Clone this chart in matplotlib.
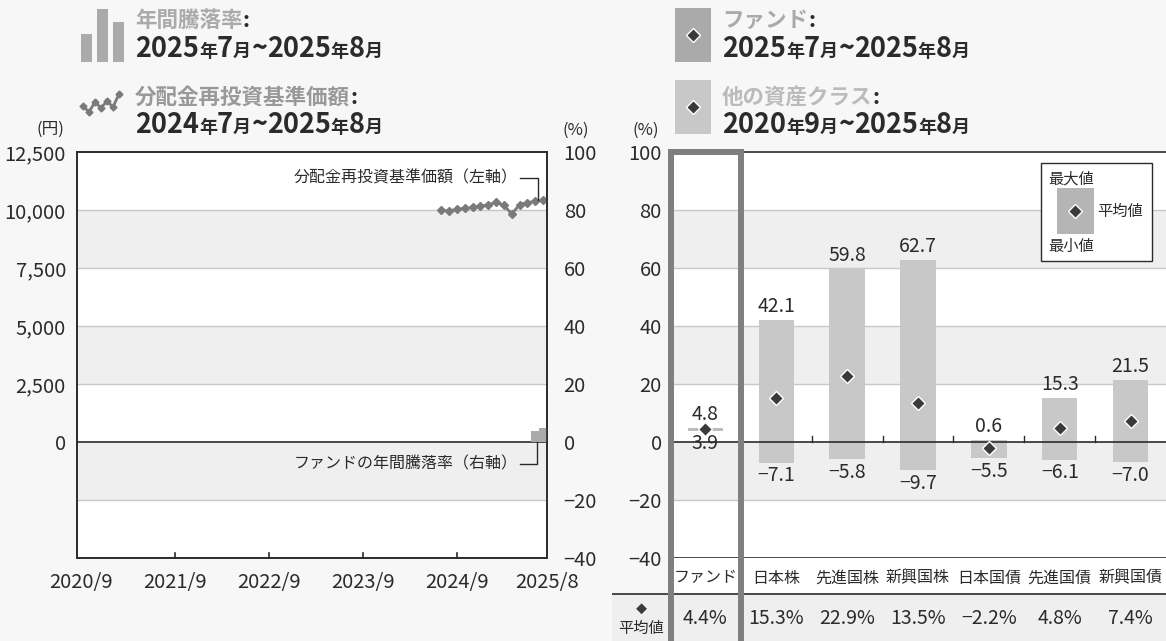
import matplotlib.pyplot as plt
from matplotlib.patches import Rectangle
from matplotlib.lines import Line2D

plt.rcParams['font.family'] = ['Noto Sans CJK JP', 'DejaVu Sans']

# ---- data: left chart (month index, 0 = 2020/9) ----
nav_months = list(range(46, 60))          # 2024/7 .. 2025/8
nav_values = [9990, 9960, 10030, 10070, 10110, 10160, 10220,
              10330, 10200, 9830, 10230, 10320, 10370, 10420]
ret_months = [58, 59]                     # 2025/7, 2025/8
ret_values = [3.9, 4.8]
x_tick_pos = [0, 12, 24, 36, 48, 59.5]
x_tick_labels = ['2020/9', '2021/9', '2022/9', '2023/9', '2024/9', '2025/8']
yen_ticks = [0, 2500, 5000, 7500, 10000, 12500]
pct_ticks = [-40, -20, 0, 20, 40, 60, 80, 100]

# ---- data: right chart ----
classes = ['ファンド', '日本株', '先進国株', '新興国株', '日本国債', '先進国債', '新興国債']
max_vals = [4.8, 42.1, 59.8, 62.7, 0.6, 15.3, 21.5]
min_vals = [3.9, -7.1, -5.8, -9.7, -5.5, -6.1, -7.0]
avg_vals = [4.4, 15.3, 22.9, 13.5, -2.2, 4.8, 7.4]

W, H = 1166, 641
BG = '#f7f7f7'
BAND = '#efefef'
GRID = '#c8c8c8'
DARK = '#2b2b2b'
FUND_C = '#aaaaaa'
OTHER_C = '#c8c8c8'
TICK_FS = 14.5


def fx(px):
    return px / W


def fy(py):
    return 1 - py / H


def mfmt(v, nd=1, suffix=''):
    s = f'{v:.{nd}f}'
    return s.replace('-', '\u2212') + suffix


fig = plt.figure(figsize=(W / 100, H / 100), dpi=100, facecolor=BG)
renderer = fig.canvas.get_renderer()


def seg_text(px, py, parts):
    # parts: (text, size, color) drawn one after another on a common baseline
    x = fx(px)
    for s, size, color in parts:
        t = fig.text(x, fy(py), s, fontsize=size, color=color,
                     fontweight='bold', va='baseline', ha='left')
        x += t.get_window_extent(renderer=renderer).width / W


def date_parts(y1, m1, y2, m2):
    big, small = 19.5, 13
    return [(y1, big, DARK), ('年', small, DARK), (m1, big, DARK), ('月', small, DARK),
            ('~', big, DARK), (y2, big, DARK), ('年', small, DARK), (m2, big, DARK),
            ('月', small, DARK)]


def band_grid(a, k=1.0):
    # bands / grid given in % ; k converts to the axis units
    for lo, hi in [(60, 80), (20, 40), (-20, 0)]:
        a.axhspan(lo * k, hi * k, color=BAND, zorder=0, lw=0)
    for v in [-20, 20, 40, 60, 80]:
        a.axhline(v * k, color=GRID, lw=1, zorder=0.5)
    a.axhline(0, color=DARK, lw=1.2, zorder=3)


# ================= left chart =================
ax = fig.add_axes([fx(77), fy(558), (547 - 77) / W, (558 - 152) / H])
ax.set_facecolor('white')
ax.set_xlim(-0.5, 59.5)
ax.set_ylim(-5000, 12500)
band_grid(ax, 125)
ax2 = ax.twinx()
ax2.set_ylim(-40, 100)

ax.plot(nav_months, nav_values, color='#7a7a7a', lw=2, marker='D', ms=4.5,
        zorder=4)
ax2.bar(ret_months, ret_values, width=1.0, color=FUND_C, zorder=2)

ax.set_yticks(yen_ticks, [f'{v:,}' for v in yen_ticks])
ax2.set_yticks(pct_ticks, [mfmt(v, 0) for v in pct_ticks])
ax.set_xticks(x_tick_pos, x_tick_labels)
ax.tick_params(axis='y', length=0, labelsize=TICK_FS, labelcolor=DARK, pad=8)
ax2.tick_params(axis='y', length=0, labelsize=TICK_FS, labelcolor=DARK, pad=12)
ax.tick_params(axis='x', length=0, labelsize=TICK_FS, labelcolor=DARK, pad=10)
# inward year ticks on the bottom spine
for m in x_tick_pos[1:-1]:
    ax.plot([m, m], [-5000, -4800], color=DARK, lw=1.2, zorder=6, clip_on=False)
for a in (ax, ax2):
    for sp in a.spines.values():
        sp.set_color(DARK)
        sp.set_linewidth(1.2)

# leader lines
ax.plot([56.0, 58.3, 58.3], [11380, 11380, nav_values[-2] + 80],
        color=DARK, lw=1, zorder=5)
ax.text(55.8, 11380, '分配金再投資基準価額（左軸）', ha='right', va='center',
        fontsize=11.5, color=DARK)
ax2.plot([56.0, 58.2, 58.2], [-7.6, -7.6, 0], color=DARK, lw=1, zorder=5)
ax2.text(55.8, -7.6, 'ファンドの年間騰落率（右軸）', ha='right', va='center',
         fontsize=11.5, color=DARK)

fig.text(fx(50), fy(129), '(円)', ha='center', va='center', fontsize=12, color=DARK)
fig.text(fx(576), fy(130), '(%)', ha='center', va='center', fontsize=12, color=DARK)

# ================= right chart =================
axr = fig.add_axes([fx(670), fy(558), (1166 - 670) / W, (558 - 152) / H])
axr.set_facecolor('white')
axr.set_xlim(-0.5, 6.5)
axr.set_ylim(-40, 100)
band_grid(axr)

xs = list(range(len(classes)))
heights = [mx - mn for mx, mn in zip(max_vals, min_vals)]
colors = [OTHER_C] * len(classes)
colors[0] = '#bdbdbd'
axr.bar(xs, heights, bottom=min_vals, width=0.5, color=colors, zorder=2)
axr.plot(xs, avg_vals, ls='none', marker='D', ms=7, color='#3a3a3a',
         mec='white', mew=1, zorder=5)
for x, mx, mn in zip(xs, max_vals, min_vals):
    axr.annotate(mfmt(mx), (x, mx), xytext=(0, 2), textcoords='offset points',
                 ha='center', va='bottom', fontsize=14, color=DARK, zorder=6)
    axr.annotate(mfmt(mn), (x, mn), xytext=(0, -2), textcoords='offset points',
                 ha='center', va='top', fontsize=14, color=DARK, zorder=6)
for b in [1.5, 2.5, 3.5, 4.5, 5.5]:
    axr.plot([b, b], [0, 2.2], color=DARK, lw=1, zorder=3)

axr.set_xticks([])
axr.set_yticks(pct_ticks, [mfmt(v, 0) for v in pct_ticks])
axr.tick_params(axis='y', length=0, labelsize=TICK_FS, labelcolor=DARK, pad=6)
axr.spines['right'].set_visible(False)
for sp in ['top', 'bottom', 'left']:
    axr.spines[sp].set_color(DARK)
    axr.spines[sp].set_linewidth(1.2)
fig.text(fx(646), fy(130), '(%)', ha='center', va='center', fontsize=12, color=DARK)


# mini legend inside right chart
def rax(px, py):
    return ((px - 670) / 496, (558 - py) / 406)


lx0, ly0 = rax(1041, 261)
lx1, ly1 = rax(1152, 163)
axr.add_patch(Rectangle((lx0, ly0), lx1 - lx0, ly1 - ly0, transform=axr.transAxes,
                        facecolor='white', edgecolor=DARK, lw=1, zorder=7))
gx0, gy0 = rax(1057, 234)
gx1, gy1 = rax(1094, 188)
axr.add_patch(Rectangle((gx0, gy0), gx1 - gx0, gy1 - gy0, transform=axr.transAxes,
                        facecolor='#b5b5b5', lw=0, zorder=8))
axr.plot(*rax(1075, 211), marker='D', ms=7, color='#3a3a3a', mec='white', mew=1,
         transform=axr.transAxes, zorder=9)
for s, px, py in [('最大値', 1048, 179), ('平均値', 1097, 211), ('最小値', 1048, 246)]:
    axr.text(*rax(px, py), s, transform=axr.transAxes, ha='left', va='center',
             fontsize=11, color=DARK, zorder=9)

# table under right chart
col_px = 496 / 7
tl = -0.5 - (670 - 612) / col_px
axt = fig.add_axes([fx(612), 0, (1166 - 612) / W, (641 - 558) / H])
axt.set_xlim(tl, 6.5)
axt.set_ylim(83, 0)
axt.axis('off')
axt.add_patch(Rectangle((-0.5, 0), 7, 36, facecolor='white', lw=0))
axt.add_patch(Rectangle((tl, 36), 6.5 - tl, 47, facecolor=BAND, lw=0))
axt.plot([tl, 6.5], [36, 36], color=DARK, lw=1.2)
for x, c, v in zip(xs, classes, avg_vals):
    axt.text(x, 20, c, ha='center', va='center', fontsize=11.5, color=DARK)
    axt.text(x, 60, mfmt(v, 1, '%'), ha='center', va='center', fontsize=14, color=DARK)
lab_x = tl + (641 - 612) / col_px
axt.text(lab_x, 51, '◆', ha='center', va='center', fontsize=8, color='#3a3a3a')
axt.text(lab_x, 70, '平均値', ha='center', va='center', fontsize=11, color=DARK)

# thick frame around the fund column
fig.patches.append(Rectangle((fx(671), fy(645)), fx(741) - fx(671), fy(152) - fy(645),
                             transform=fig.transFigure, fill=False,
                             edgecolor='#7f7f7f', lw=4.3, zorder=10))

# ================= header legends =================
# bar icon
for (x0, x1, top) in [(81, 92, 34), (97, 108, 9), (113, 124, 22)]:
    fig.patches.append(Rectangle((fx(x0), fy(62)), fx(x1) - fx(x0), fy(top) - fy(62),
                                 transform=fig.transFigure, color=FUND_C, lw=0))
seg_text(135, 27, [('年間騰落率', 15.5, '#aaaaaa'), (':', 15.5, DARK)])
seg_text(135, 57, date_parts('2025', '7', '2025', '8'))

# line icon
icon_x = [83, 89, 95, 101, 107, 113, 119]
icon_y = [106, 112, 102, 108, 101, 107, 94]
fig.lines.append(Line2D([fx(v) for v in icon_x], [fy(v) for v in icon_y],
                        transform=fig.transFigure, color='#7a7a7a', lw=2,
                        marker='D', ms=3.5))
seg_text(135, 104, [('分配金再投資基準価額', 15.5, '#999999'), (':', 15.5, DARK)])
seg_text(135, 133, date_parts('2024', '7', '2025', '8'))

# fund / other squares
for (top, bot, col) in [(8, 62, FUND_C), (80, 134, OTHER_C)]:
    fig.patches.append(Rectangle((fx(675), fy(bot)), fx(711) - fx(675), fy(top) - fy(bot),
                                 transform=fig.transFigure, color=col, lw=0))
    fig.lines.append(Line2D([fx(693)], [fy((top + bot) / 2)], transform=fig.transFigure,
                            marker='D', ms=7, color='#3a3a3a', mec='white', mew=1))
seg_text(722, 27, [('ファンド', 15.5, '#aaaaaa'), (':', 15.5, DARK)])
seg_text(722, 57, date_parts('2025', '7', '2025', '8'))
seg_text(722, 104, [('他の資産クラス', 15.5, '#bbbbbb'), (':', 15.5, DARK)])
seg_text(722, 133, date_parts('2020', '9', '2025', '8'))

fig.savefig('out.png', dpi=100, facecolor=BG)
